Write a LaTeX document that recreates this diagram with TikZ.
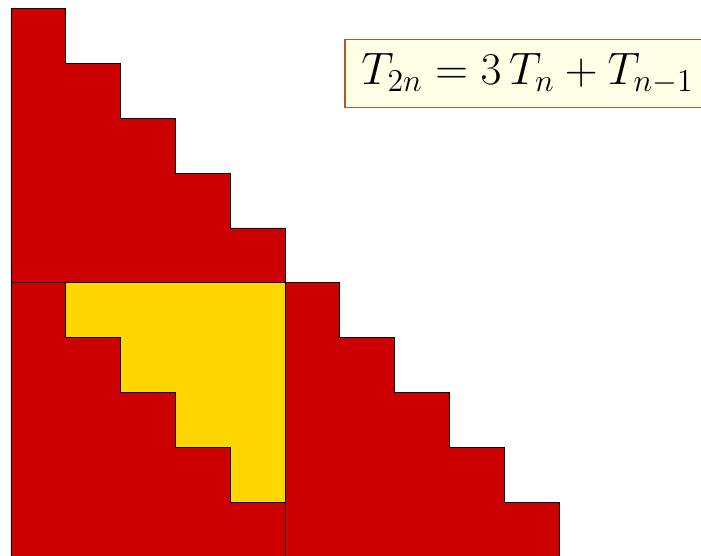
\RequirePackage{fix-cm}
\documentclass[tikz,border=0pt]{standalone}
\usepackage{amsmath,amssymb}
\usepackage{xcolor}
\usepackage{tikz}
\definecolor{stairred}{RGB}{204,0,0}
\definecolor{stairgold}{RGB}{255,215,0}
\definecolor{boxfill}{RGB}{255,255,230}
\definecolor{boxline}{RGB}{178,88,40}
\tikzset{
  stairs/.style={draw=black, line width=0.4pt, fill=stairred},
  inner stairs/.style={draw=black, line width=0.4pt, fill=stairgold},
  formula/.style={rectangle, draw=boxline, fill=boxfill, line width=0.8pt,
                  inner xsep=0.3cm, inner ysep=0.1cm, minimum height=1.24cm,
                  font=\fontsize{23.6}{28}\selectfont},
}

\begin{document}
\begin{tikzpicture}
  % Frame (content is cut at bottom and right)
  \useasboundingbox (-0.2,0.03) rectangle (12.59,10.16);
  \clip (-0.2,0.03) rectangle (12.59,10.16);

  % Top triangle T_n
  \draw[stairs] (0,5) -- (0,10) -- (1,10) -- (1,9) -- (2,9) -- (2,8) -- (3,8)
    -- (3,7) -- (4,7) -- (4,6) -- (5,6) -- (5,5) -- cycle;

  % Bottom left: T_n in red, T_{n-1} in yellow
  \draw[stairs] (0,0) -- (0,5) -- (1,5) -- (1,4) -- (2,4) -- (2,3) -- (3,3)
    -- (3,2) -- (4,2) -- (4,1) -- (5,1) -- (5,0) -- cycle;
  \draw[inner stairs] (1,5) -- (5,5) -- (5,1) -- (4,1) -- (4,2) -- (3,2)
    -- (3,3) -- (2,3) -- (2,4) -- (1,4) -- cycle;

  % Bottom right triangle T_n
  \draw[stairs] (5,0) -- (5,5) -- (6,5) -- (6,4) -- (7,4) -- (7,3) -- (8,3)
    -- (8,2) -- (9,2) -- (9,1) -- (10,1) -- (10,0) -- cycle;

  % Formula
  \node[formula, anchor=west] (recur) at (6.08,8.82) {$T_{2n} = 3\,T_n + T_{n-1}$};
\end{tikzpicture}
\end{document}
